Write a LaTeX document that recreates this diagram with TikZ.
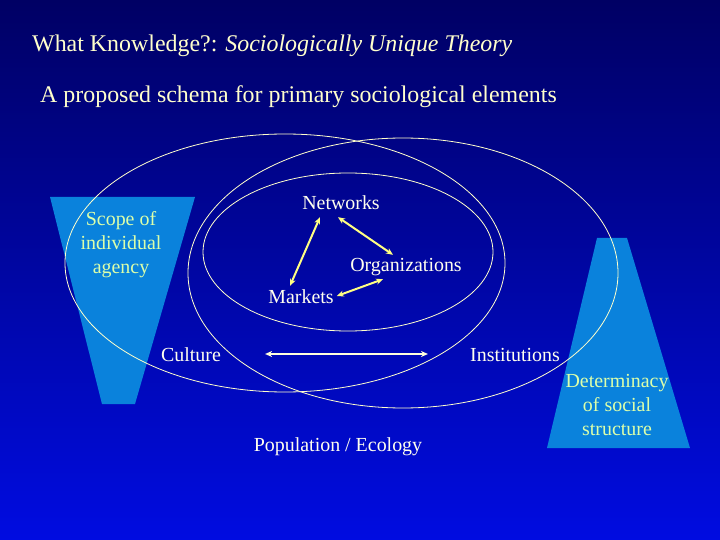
\documentclass[tikz,border=0pt]{standalone}
\usepackage{fontspec}
\setmainfont{Liberation Serif}
\usepackage{tikz}
\usetikzlibrary{arrows.meta}

\definecolor{bgtop}{RGB}{0,0,100}
\definecolor{bgbottom}{RGB}{0,12,225}
\definecolor{wedge}{RGB}{10,130,220}
\definecolor{ringline}{RGB}{255,255,204}
\definecolor{arrowyellow}{RGB}{255,255,130}
\definecolor{arrowpale}{RGB}{255,255,220}
\definecolor{labeltext}{RGB}{255,255,238}
\definecolor{titletext}{RGB}{255,255,204}
\definecolor{sidetext}{RGB}{220,255,170}

\begin{document}
\begin{tikzpicture}[
  x=1bp, y=-1bp,
  title/.style  = {anchor=base west, inner sep=0pt, text=titletext,
                   font=\fontsize{24}{28}\selectfont},
  lbl/.style    = {inner sep=3bp, text=labeltext, text height=14bp,
                   text depth=4bp, font=\fontsize{20}{24}\selectfont},
  side/.style   = {inner sep=0pt, align=center, text=sidetext,
                   font=\fontsize{20}{24}\selectfont},
  ring/.style   = {draw=ringline, line width=0.8bp},
  trap/.style   = {fill=wedge},
  arr/.style    = {{Stealth[length=7bp,width=6bp]}-{Stealth[length=7bp,width=6bp]},
                   line width=2bp, draw=arrowyellow},
  warr/.style   = {arr, draw=arrowpale}
]
  %% Background
  \fill[top color=bgtop, bottom color=bgbottom] (0,0) rectangle (720,540);
  \useasboundingbox (0,0) rectangle (720,540);

  %% Headings
  \node[title] (head) at (32,52)
    {What Knowledge?: \textit{Sociologically Unique Theory}};
  \node[title] (sub) at (40,103)
    {A proposed schema for primary sociological elements};

  %% Side wedges
  \fill[trap] (50,197) -- (195,197) -- (135,404) -- (102,404) -- cycle;
  \fill[trap] (597,238) -- (627,238) -- (690,448) -- (547,448) -- cycle;

  %% Rings
  \draw[ring] (285,263) ellipse [x radius=220, y radius=129];
  \draw[ring] (403,273) ellipse [x radius=215, y radius=135];
  \draw[ring] (348,252) ellipse [x radius=145, y radius=79];

  %% Side texts
  \node[side] (scope) at (121,245) {Scope of\\individual\\agency};
  \node[side] (determ) at (617,405) {Determinacy\\of social\\structure};

  %% Elements
  \node[lbl] (net)  at (341,205) {Networks};
  \node[lbl] (org)  at (406,267) {Organizations};
  \node[lbl] (mkt)  at (301,298) {Markets};
  \node[lbl] (cul)  at (191,356) {Culture};
  \node[lbl] (inst) at (515,356) {Institutions};
  \node[lbl] (pop)  at (338,446) {Population / Ecology};

  \draw[arr] ([xshift=-21bp]net.south) -- ([xshift=-11bp]mkt.north);
  \draw[arr] ([xshift=-3bp]net.south)  -- ([xshift=-13bp]org.north);
  \draw[arr] ([xshift=-23bp]org.south) -- ([yshift=2bp]mkt.east);
  \draw[warr, shorten <=41bp, shorten >=39bp]
       ([yshift=2bp]cul.east) -- ([yshift=2bp]inst.west);
\end{tikzpicture}
\end{document}
